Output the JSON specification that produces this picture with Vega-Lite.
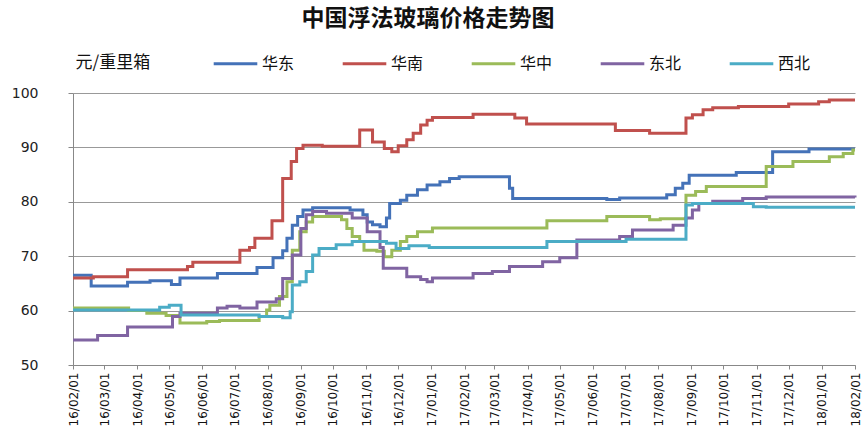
{
  "$schema": "https://vega.github.io/schema/vega-lite/v6.json",
  "width": 782,
  "height": 272,
  "autosize": {"type": "none"},
  "padding": {"left": 73, "top": 93, "right": 11, "bottom": 73},
  "background": "white",
  "title": {"text": "中国浮法玻璃价格走势图", "font": "Noto Sans CJK SC", "fontSize": 23, "fontWeight": "bold", "color": "#111", "anchor": "middle", "offset": 9, "dx": -36},
  "config": {"view": {"stroke": null}},
  "datasets": {
    "s": [
      {"d":"2016-02-01","r":"华东","v":66.5},{"d":"2016-02-18","r":"华东","v":64.5},{"d":"2016-03-23","r":"华东","v":65.2},{"d":"2016-04-13","r":"华东","v":65.5},{"d":"2016-05-03","r":"华东","v":64.8},{"d":"2016-05-11","r":"华东","v":66.0},{"d":"2016-06-15","r":"华东","v":66.8},{"d":"2016-07-22","r":"华东","v":67.9},{"d":"2016-08-06","r":"华东","v":69.7},{"d":"2016-08-15","r":"华东","v":71.0},{"d":"2016-08-19","r":"华东","v":73.3},{"d":"2016-08-24","r":"华东","v":75.7},{"d":"2016-08-29","r":"华东","v":77.3},{"d":"2016-09-03","r":"华东","v":78.5},{"d":"2016-09-12","r":"华东","v":78.9},{"d":"2016-10-17","r":"华东","v":78.5},{"d":"2016-10-29","r":"华东","v":77.6},{"d":"2016-11-02","r":"华东","v":76.3},{"d":"2016-11-07","r":"华东","v":75.8},{"d":"2016-11-14","r":"华东","v":75.4},{"d":"2016-11-20","r":"华东","v":77.0},{"d":"2016-11-23","r":"华东","v":79.7},{"d":"2016-12-03","r":"华东","v":80.3},{"d":"2016-12-09","r":"华东","v":81.2},{"d":"2016-12-19","r":"华东","v":82.2},{"d":"2016-12-28","r":"华东","v":83.1},{"d":"2017-01-09","r":"华东","v":83.7},{"d":"2017-01-18","r":"华东","v":84.3},{"d":"2017-01-27","r":"华东","v":84.6},{"d":"2017-03-15","r":"华东","v":82.5},{"d":"2017-03-18","r":"华东","v":80.6},{"d":"2017-06-14","r":"华东","v":80.4},{"d":"2017-06-26","r":"华东","v":80.7},{"d":"2017-08-09","r":"华东","v":81.3},{"d":"2017-08-17","r":"华东","v":82.5},{"d":"2017-08-24","r":"华东","v":83.4},{"d":"2017-08-30","r":"华东","v":84.9},{"d":"2017-10-13","r":"华东","v":85.4},{"d":"2017-11-16","r":"华东","v":89.2},{"d":"2017-12-20","r":"华东","v":89.7},{"d":"2018-02-01","r":"华东","v":89.7},
      {"d":"2016-02-01","r":"华南","v":66.0},{"d":"2016-02-20","r":"华南","v":66.2},{"d":"2016-03-23","r":"华南","v":67.5},{"d":"2016-05-18","r":"华南","v":68.1},{"d":"2016-05-23","r":"华南","v":68.9},{"d":"2016-07-06","r":"华南","v":71.1},{"d":"2016-07-15","r":"华南","v":71.6},{"d":"2016-07-20","r":"华南","v":73.3},{"d":"2016-08-05","r":"华南","v":76.5},{"d":"2016-08-15","r":"华南","v":84.3},{"d":"2016-08-23","r":"华南","v":87.4},{"d":"2016-08-28","r":"华南","v":89.8},{"d":"2016-09-03","r":"华南","v":90.4},{"d":"2016-09-21","r":"华南","v":90.2},{"d":"2016-10-26","r":"华南","v":93.2},{"d":"2016-11-07","r":"华南","v":91.0},{"d":"2016-11-18","r":"华南","v":89.8},{"d":"2016-11-25","r":"华南","v":89.2},{"d":"2016-12-01","r":"华南","v":90.3},{"d":"2016-12-09","r":"华南","v":91.4},{"d":"2016-12-15","r":"华南","v":92.6},{"d":"2016-12-22","r":"华南","v":94.1},{"d":"2016-12-28","r":"华南","v":95.0},{"d":"2017-01-02","r":"华南","v":95.5},{"d":"2017-02-09","r":"华南","v":96.1},{"d":"2017-03-20","r":"华南","v":95.4},{"d":"2017-03-31","r":"华南","v":94.3},{"d":"2017-06-22","r":"华南","v":93.1},{"d":"2017-07-24","r":"华南","v":92.6},{"d":"2017-08-27","r":"华南","v":95.4},{"d":"2017-09-02","r":"华南","v":96.0},{"d":"2017-09-12","r":"华南","v":96.9},{"d":"2017-09-21","r":"华南","v":97.3},{"d":"2017-10-15","r":"华南","v":97.5},{"d":"2017-12-01","r":"华南","v":98.0},{"d":"2017-12-29","r":"华南","v":98.4},{"d":"2018-01-08","r":"华南","v":98.7},{"d":"2018-02-01","r":"华南","v":98.7},
      {"d":"2016-02-01","r":"华中","v":60.5},{"d":"2016-03-24","r":"华中","v":60.0},{"d":"2016-04-10","r":"华中","v":59.5},{"d":"2016-04-28","r":"华中","v":59.1},{"d":"2016-05-11","r":"华中","v":57.7},{"d":"2016-06-05","r":"华中","v":58.0},{"d":"2016-06-17","r":"华中","v":58.2},{"d":"2016-07-24","r":"华中","v":58.9},{"d":"2016-07-31","r":"华中","v":60.1},{"d":"2016-08-03","r":"华中","v":61.0},{"d":"2016-08-12","r":"华中","v":62.6},{"d":"2016-08-19","r":"华中","v":65.3},{"d":"2016-08-24","r":"华中","v":71.1},{"d":"2016-08-31","r":"华中","v":74.5},{"d":"2016-09-06","r":"华中","v":76.3},{"d":"2016-09-12","r":"华中","v":77.3},{"d":"2016-10-09","r":"华中","v":76.7},{"d":"2016-10-14","r":"华中","v":75.1},{"d":"2016-10-19","r":"华中","v":73.6},{"d":"2016-10-26","r":"华中","v":72.7},{"d":"2016-10-30","r":"华中","v":71.1},{"d":"2016-11-11","r":"华中","v":70.9},{"d":"2016-11-18","r":"华中","v":69.9},{"d":"2016-11-25","r":"华中","v":71.1},{"d":"2016-12-03","r":"华中","v":72.7},{"d":"2016-12-09","r":"华中","v":73.6},{"d":"2016-12-19","r":"华中","v":74.5},{"d":"2017-01-02","r":"华中","v":75.2},{"d":"2017-04-19","r":"华中","v":76.5},{"d":"2017-06-14","r":"华中","v":77.3},{"d":"2017-07-24","r":"华中","v":76.7},{"d":"2017-08-03","r":"华中","v":76.9},{"d":"2017-08-27","r":"华中","v":81.2},{"d":"2017-09-05","r":"华中","v":81.9},{"d":"2017-09-15","r":"华中","v":82.8},{"d":"2017-11-10","r":"华中","v":86.5},{"d":"2017-12-05","r":"华中","v":87.4},{"d":"2018-01-08","r":"华中","v":88.3},{"d":"2018-01-21","r":"华中","v":88.9},{"d":"2018-01-30","r":"华中","v":89.5},{"d":"2018-02-01","r":"华中","v":89.5},
      {"d":"2016-02-01","r":"东北","v":54.6},{"d":"2016-02-24","r":"东北","v":55.4},{"d":"2016-03-23","r":"东北","v":57.0},{"d":"2016-05-04","r":"东北","v":58.9},{"d":"2016-05-11","r":"东北","v":59.5},{"d":"2016-06-15","r":"东北","v":60.5},{"d":"2016-06-24","r":"东北","v":60.8},{"d":"2016-07-06","r":"东北","v":60.5},{"d":"2016-07-22","r":"东北","v":61.6},{"d":"2016-08-09","r":"东北","v":62.2},{"d":"2016-08-15","r":"东北","v":65.9},{"d":"2016-08-24","r":"东北","v":70.2},{"d":"2016-09-01","r":"东北","v":75.1},{"d":"2016-09-06","r":"东北","v":77.6},{"d":"2016-09-12","r":"东北","v":78.2},{"d":"2016-09-25","r":"东北","v":77.9},{"d":"2016-10-19","r":"东北","v":77.0},{"d":"2016-11-02","r":"东北","v":74.5},{"d":"2016-11-14","r":"东北","v":71.6},{"d":"2016-11-17","r":"东北","v":67.8},{"d":"2016-12-09","r":"东北","v":66.2},{"d":"2016-12-22","r":"东北","v":65.7},{"d":"2016-12-28","r":"东北","v":65.3},{"d":"2017-01-02","r":"东北","v":66.0},{"d":"2017-02-09","r":"东北","v":66.8},{"d":"2017-02-27","r":"东北","v":67.2},{"d":"2017-03-15","r":"东北","v":68.1},{"d":"2017-04-15","r":"东北","v":69.0},{"d":"2017-05-01","r":"东北","v":69.7},{"d":"2017-05-17","r":"东北","v":73.0},{"d":"2017-06-26","r":"东北","v":73.6},{"d":"2017-07-08","r":"东北","v":74.8},{"d":"2017-08-15","r":"东北","v":75.7},{"d":"2017-08-27","r":"东北","v":77.0},{"d":"2017-09-02","r":"东北","v":78.5},{"d":"2017-09-08","r":"东北","v":79.7},{"d":"2017-09-21","r":"东北","v":80.1},{"d":"2017-10-19","r":"东北","v":80.6},{"d":"2017-11-10","r":"东北","v":80.9},{"d":"2018-02-01","r":"东北","v":80.8},
      {"d":"2016-02-01","r":"西北","v":60.1},{"d":"2016-04-22","r":"西北","v":60.6},{"d":"2016-05-01","r":"西北","v":61.0},{"d":"2016-05-12","r":"西北","v":59.2},{"d":"2016-07-24","r":"西北","v":58.9},{"d":"2016-08-15","r":"西北","v":58.7},{"d":"2016-08-22","r":"西北","v":59.8},{"d":"2016-08-24","r":"西北","v":64.7},{"d":"2016-08-31","r":"西北","v":65.3},{"d":"2016-09-06","r":"西北","v":67.2},{"d":"2016-09-12","r":"西北","v":70.2},{"d":"2016-09-18","r":"西北","v":71.4},{"d":"2016-10-04","r":"西北","v":72.1},{"d":"2016-10-19","r":"西北","v":72.7},{"d":"2016-11-20","r":"西北","v":72.4},{"d":"2016-11-29","r":"西北","v":71.4},{"d":"2016-12-11","r":"西北","v":71.9},{"d":"2016-12-30","r":"西北","v":71.6},{"d":"2017-04-19","r":"西北","v":72.7},{"d":"2017-07-02","r":"西北","v":73.1},{"d":"2017-08-27","r":"西北","v":79.4},{"d":"2017-09-02","r":"西北","v":79.7},{"d":"2017-10-29","r":"西北","v":79.1},{"d":"2017-11-10","r":"西北","v":79.0},{"d":"2018-02-01","r":"西北","v":79.0}
    ]
  },
  "data": {"name": "s"},
  "mark": {"type": "line", "interpolate": "step-after", "strokeWidth": 3},
  "encoding": {
    "x": {
      "field": "d", "type": "temporal",
      "scale": {"type": "utc", "domain": ["2016-02-01", "2018-02-01"], "nice": false},
      "axis": {
        "title": null, "format": "%y/%m/%d", "tickCount": {"interval": "month", "step": 1},
        "labelAngle": 270, "labelAlign": "right", "labelBaseline": "middle",
        "labelFont": "DejaVu Sans", "labelFontSize": 12, "labelColor": "#111",
        "labelPadding": 3, "tickSize": 4, "tickColor": "#888", "domainColor": "#888",
        "grid": false, "labelOverlap": false, "labelFlush": false
      }
    },
    "y": {
      "field": "v", "type": "quantitative",
      "scale": {"domain": [50, 100], "nice": false, "zero": false},
      "axis": {
        "title": "元/重里箱", "titleAngle": 0, "titleAlign": "left", "titleBaseline": "middle",
        "titleX": 2, "titleY": -31, "titleFont": "Noto Sans CJK SC", "titleFontSize": 17, "titleFontWeight": "normal", "titleColor": "#111",
        "values": [50, 60, 70, 80, 90, 100], "labelFont": "DejaVu Sans", "labelFontSize": 14, "labelColor": "#222",
        "labelPadding": 30, "tickSize": 5, "tickColor": "#888", "domainColor": "#888",
        "grid": true, "gridColor": "#999", "gridWidth": 1
      }
    },
    "color": {
      "field": "r", "type": "nominal",
      "scale": {"domain": ["华东", "华南", "华中", "东北", "西北"], "range": ["#4472B8", "#C0504D", "#9BBB59", "#8064A2", "#4BACC6"]},
      "legend": {
        "title": null, "orient": "none", "legendX": 139, "legendY": -53, "direction": "horizontal", "columns": 5,
        "symbolType": "stroke", "symbolSize": 1900, "symbolStrokeWidth": 3, "labelFont": "Noto Sans CJK SC", "labelFontSize": 16, "labelColor": "#111",
        "labelOffset": 3, "columnPadding": 41
      }
    },
    "order": {"field": "d", "type": "temporal"}
  }
}
